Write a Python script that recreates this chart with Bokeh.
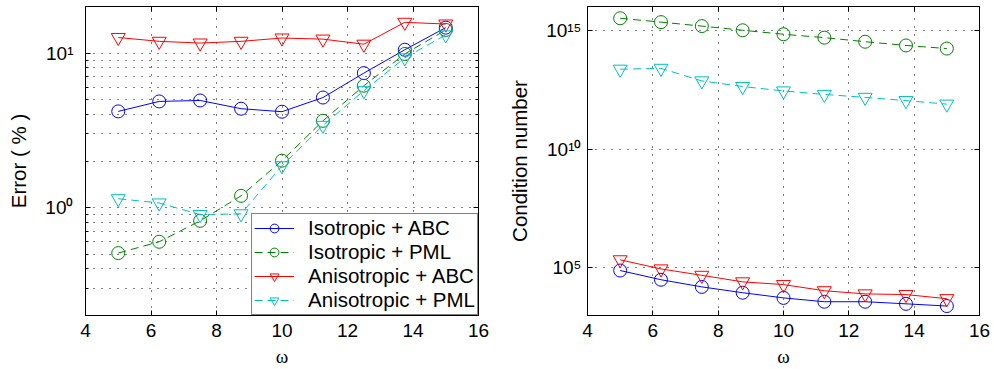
from bokeh.plotting import figure
from bokeh.models import FixedTicker, LogAxis, LinearAxis, Legend, LegendItem, Range1d, CustomJSTickFormatter
from bokeh.layouts import row
from bokeh.embed import file_html
from bokeh.resources import INLINE

# ---------------- data ----------------
omega = [5, 6.25, 7.5, 8.75, 10, 11.25, 12.5, 13.75, 15]

labels = ["Isotropic + ABC", "Isotropic + PML", "Anisotropic + ABC", "Anisotropic + PML"]

err_iso_abc = [4.19, 4.86, 4.93, 4.36, 4.17, 5.15, 7.41, 10.5, 14.6]
err_iso_pml = [0.507, 0.60, 0.82, 1.19, 2.01, 3.64, 6.14, 9.86, 14.1]
err_aniso_abc = [12.6, 11.9, 11.6, 11.9, 12.5, 12.3, 11.4, 15.8, 15.4]
err_aniso_pml = [1.14, 1.07, 0.90, 0.91, 1.86, 3.4, 5.7, 9.3, 13.1]

cond_iso_abc = [7.8e4, 3.2e4, 1.6e4, 9.1e3, 5.5e3, 3.8e3, 3.8e3, 3.1e3, 2.5e3]
cond_iso_pml = [3.2e15, 2.2e15, 1.5e15, 1.0e15, 6.8e14, 4.9e14, 3.3e14, 2.3e14, 1.7e14]
cond_aniso_abc = [2.2e5, 9.1e4, 4.9e4, 2.6e4, 2.0e4, 1.1e4, 8.1e3, 7.6e3, 5.1e3]
cond_aniso_pml = [2.3e13, 2.5e13, 7.4e12, 4.3e12, 2.8e12, 2.0e12, 1.5e12, 1.1e12, 7.8e11]

x_ticks = [4, 6, 8, 10, 12, 14, 16]
err_ticks = [1, 10]
err_tick_labels = ["10\u2070", "10\u00b9"]
err_minor = [0.2, 0.3, 0.4, 0.5, 0.6, 0.7, 0.8, 0.9, 2, 3, 4, 5, 6, 7, 8, 9, 20]
cond_ticks = [1e5, 1e10, 1e15]
cond_tick_labels = ["10\u2075", "10\u00b9\u2070", "10\u00b9\u2075"]

colors = ["#0000ff", "#008000", "#ff0000", "#00bfbf"]
markers = ["circle", "circle", "inverted_triangle", "inverted_triangle"]
dashes = ["solid", "8 5", "solid", "8 5"]

FONT = "Liberation Sans"


def style_axis(ax):
    ax.axis_line_color = "black"
    ax.axis_line_width = 1
    ax.major_tick_in = 5
    ax.major_tick_out = 0
    ax.minor_tick_in = 3
    ax.minor_tick_out = 0
    ax.major_tick_line_color = "black"
    ax.minor_tick_line_color = "black"
    ax.major_label_text_font = FONT
    ax.major_label_text_color = "black"
    ax.major_label_text_font_size = "19px"
    ax.axis_label_text_font = FONT
    ax.axis_label_text_font_style = "normal"
    ax.axis_label_text_font_size = "20.5px"
    ax.axis_label_text_color = "black"


def make_fig(ylo, yhi, width, left, right, yticks, yminor, ylabels, ylabel, lstand, astand):
    p = figure(width=width, height=369, x_range=Range1d(4, 16), y_range=Range1d(ylo, yhi),
               y_axis_type="log", output_backend="svg", toolbar_location=None,
               min_border_left=left, min_border_right=right, min_border_top=6, min_border_bottom=54)
    p.background_fill_color = "white"
    p.border_fill_color = "white"
    p.outline_line_color = "black"
    p.outline_line_width = 1

    p.xaxis.ticker = FixedTicker(ticks=x_ticks, minor_ticks=[])
    p.yaxis.ticker = FixedTicker(ticks=yticks, minor_ticks=yminor)
    p.yaxis.major_label_overrides = {t: s for t, s in zip(yticks, ylabels)}
    for ax in p.xaxis:
        style_axis(ax)
        ax.axis_label = "\u03c9"
        ax.axis_label_text_font = "Liberation Serif"
        ax.axis_label_text_font_size = "19px"
        ax.major_label_standoff = 8
        ax.axis_label_standoff = 6
    for ax in p.yaxis:
        style_axis(ax)
        ax.axis_label = ylabel
        ax.major_label_standoff = lstand
        ax.axis_label_standoff = astand

    blank = "return ''"
    top = LinearAxis(ticker=FixedTicker(ticks=x_ticks, minor_ticks=[]),
                     formatter=CustomJSTickFormatter(code=blank))
    style_axis(top)
    top.major_label_standoff = 0
    p.add_layout(top, "above")
    rt = LogAxis(ticker=FixedTicker(ticks=yticks, minor_ticks=yminor),
                 formatter=CustomJSTickFormatter(code=blank))
    style_axis(rt)
    rt.major_label_standoff = 0
    p.add_layout(rt, "right")

    p.xgrid.grid_line_color = "black"
    p.xgrid.grid_line_dash = "1 7"
    p.xgrid.grid_line_width = 1
    p.ygrid.grid_line_color = "black"
    p.ygrid.grid_line_dash = "1 7"
    p.ygrid.grid_line_width = 1
    if yminor:
        p.ygrid.minor_grid_line_color = "black"
        p.ygrid.minor_grid_line_dash = "1 7"
        p.ygrid.minor_grid_line_width = 1
    return p


def add_series(p, ys):
    items = []
    for y, c, m, d, lab in zip(ys, colors, markers, dashes, labels):
        ln = p.line(omega, y, line_color=c, line_width=1, line_dash=d)
        sz = 13 if m == "circle" else 14
        sc = p.scatter(omega, y, marker=m, size=sz, line_color=c, fill_color=None, line_width=1)
        items.append(LegendItem(label=lab, renderers=[ln, sc]))
    return items


p1 = make_fig(0.2, 20, 500, 85, 22, err_ticks, err_minor, err_tick_labels, "Error ( % )", 12, 12)
items = add_series(p1, [err_iso_abc, err_iso_pml, err_aniso_abc, err_aniso_pml])
leg = Legend(items=items, location="bottom_right")
leg.margin = 0
leg.padding = 2
leg.spacing = 0
leg.glyph_width = 40
leg.glyph_height = 22
leg.label_height = 22
leg.label_standoff = 14
leg.label_text_font = FONT
leg.label_text_font_size = "20.5px"
leg.label_text_color = "black"
leg.border_line_color = "black"
leg.border_line_width = 1
leg.background_fill_color = "white"
leg.background_fill_alpha = 1
p1.add_layout(leg, "center")

p2 = make_fig(1e3, 1e16, 494, 87, 15, cond_ticks, [], cond_tick_labels, "Condition number", 6, 12)
add_series(p2, [cond_iso_abc, cond_iso_pml, cond_aniso_abc, cond_aniso_pml])

layout = row(p1, p2)
open("out.html", "w").write(file_html(layout, INLINE))
